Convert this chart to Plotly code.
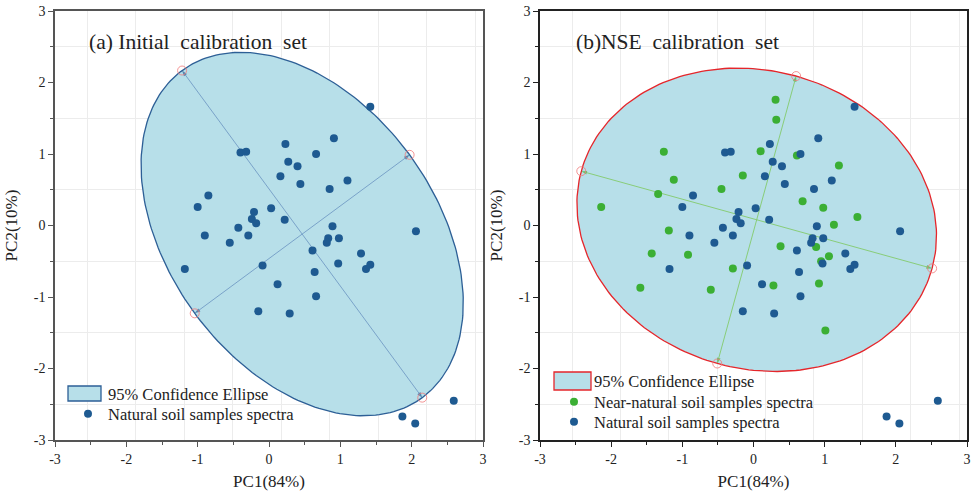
import numpy as np
import plotly.graph_objects as go

# ---------------- data ----------------
natural_pc1 = [1.42, 0.91, 0.23, -0.40, -0.32, 0.66, 0.27, 0.40, 0.16, 0.44, 1.10, 0.85,
               -0.85, -1.00, 0.03, -0.21, -0.24, -0.18, 0.22, 2.06, 0.89, 0.83, 0.81, 0.98,
               -0.43, -0.90, -0.29, -0.55, 0.61, 1.29, 0.97, 1.42, 1.36, -1.18, -0.09, 0.64,
               0.12, 0.66, -0.15, 0.29, 2.59, 1.87, 2.05]
natural_pc2 = [1.66, 1.22, 1.14, 1.02, 1.03, 1.00, 0.89, 0.83, 0.69, 0.58, 0.63, 0.51,
               0.42, 0.26, 0.24, 0.19, 0.09, 0.03, 0.08, -0.08, -0.01, -0.18, -0.24, -0.18,
               -0.03, -0.14, -0.14, -0.24, -0.35, -0.39, -0.53, -0.55, -0.61, -0.61, -0.56, -0.65,
               -0.82, -0.99, -1.20, -1.23, -2.45, -2.67, -2.77]
near_pc1 = [0.31, 0.32, -1.26, 0.10, 0.61, 1.20, -1.12, -0.15, -0.45, -1.34, -2.14, 0.69,
            0.98, 1.46, 1.13, -1.19, 0.38, 0.88, -1.43, -0.92, 1.06, 0.95, -0.29, -1.59,
            -0.60, 0.28, 0.92, 1.01]
near_pc2 = [1.76, 1.48, 1.03, 1.04, 0.98, 0.84, 0.64, 0.70, 0.51, 0.44, 0.26, 0.34,
            0.25, 0.12, 0.01, -0.07, -0.29, -0.30, -0.39, -0.41, -0.43, -0.50, -0.60, -0.87,
            -0.90, -0.84, -0.81, -1.47]

# 95% confidence ellipses: center, semi-axes (major, minor), rotation of major axis (deg)
ell_a_center = [0.465, -0.12]
ell_a_axes = [2.84, 1.87]
ell_a_angle = -53.65
ell_b_center = [0.045, 0.08]
ell_b_axes = [2.557, 2.085]
ell_b_angle = -15.42

tick_vals = [-3, -2, -1, 0, 1, 2, 3]
tick_text = ["-3", "-2", "-1", "0", "1", "2", "3"]

# ---------------- style ----------------
FONT = "Liberation Serif"
BLUE = "#1E5A91"
GREEN = "#3BAF34"
FILL = "#B7DFE9"
W, H = 971, 497
XDOM_L = [55 / W, 483 / W]
XDOM_R = [540 / W, 967 / W]
YDOM = [57 / H, 486 / H]


def ellipse_pts(c, ax, ang, n=240):
    t = np.linspace(0, 2 * np.pi, n)
    th = np.radians(ang)
    x = c[0] + ax[0] * np.cos(t) * np.cos(th) - ax[1] * np.sin(t) * np.sin(th)
    y = c[1] + ax[0] * np.cos(t) * np.sin(th) + ax[1] * np.sin(t) * np.cos(th)
    return x, y


def axis_ends(c, ax, ang):
    th = np.radians(ang)
    u = np.array([np.cos(th), np.sin(th)])
    v = np.array([-np.sin(th), np.cos(th)])
    c = np.array(c)
    return [c + ax[0] * u, c - ax[0] * u, c + ax[1] * v, c - ax[1] * v]


fig = go.Figure()

# empty traces to create grid-only base subplots
fig.add_trace(go.Scatter(x=[], y=[], xaxis="x", yaxis="y", showlegend=False, hoverinfo="skip"))
fig.add_trace(go.Scatter(x=[], y=[], xaxis="x3", yaxis="y3", showlegend=False, hoverinfo="skip"))


def add_panel(xa, ya, c, ax, ang, line_col, axis_col, head_col, legend_name):
    ex, ey = ellipse_pts(c, ax, ang)
    fig.add_trace(go.Scatter(x=ex, y=ey, mode="lines", fill="toself", fillcolor=FILL,
                             line=dict(color=line_col, width=1.3), name="95% Confidence Ellipse",
                             xaxis=xa, yaxis=ya, showlegend=False, hoverinfo="skip"))
    ends = axis_ends(c, ax, ang)
    for e in ends:
        fig.add_trace(go.Scatter(x=[c[0], e[0]], y=[c[1], e[1]], mode="lines+markers",
                                 line=dict(color=axis_col, width=0.8),
                                 marker=dict(symbol="arrow", angleref="previous", size=[0, 6],
                                             color=head_col, line=dict(width=0)),
                                 xaxis=xa, yaxis=ya, showlegend=False, hoverinfo="skip"))
    fig.add_trace(go.Scatter(x=[e[0] for e in ends], y=[e[1] for e in ends], mode="markers",
                             marker=dict(symbol="circle-open", size=9, color="#F07878",
                                         line=dict(width=0.8)),
                             xaxis=xa, yaxis=ya, showlegend=False, hoverinfo="skip"))
    # legend entry for the ellipse (key box drawn as a layout shape)
    fig.add_trace(go.Scatter(x=[None], y=[None], mode="lines", line=dict(width=0, color=FILL),
                             name="95% Confidence Ellipse", xaxis=xa, yaxis=ya,
                             legend=legend_name, hoverinfo="skip"))


add_panel("x2", "y2", ell_a_center, ell_a_axes, ell_a_angle, "#2D5F96", "#6A93C0", "#2D5F96", "legend")
fig.add_trace(go.Scatter(x=natural_pc1, y=natural_pc2, mode="markers",
                         marker=dict(color=BLUE, size=8), name="Natural soil samples spectra",
                         xaxis="x2", yaxis="y2", legend="legend3"))

add_panel("x4", "y4", ell_b_center, ell_b_axes, ell_b_angle, "#E5262B", "#7CC85C", "#4FB83A", "legend2")
fig.add_trace(go.Scatter(x=near_pc1, y=near_pc2, mode="markers",
                         marker=dict(color=GREEN, size=8), name="Near-natural soil samples spectra",
                         xaxis="x4", yaxis="y4", legend="legend4"))
fig.add_trace(go.Scatter(x=natural_pc1, y=natural_pc2, mode="markers",
                         marker=dict(color=BLUE, size=8), name="Natural soil samples spectra",
                         xaxis="x4", yaxis="y4", legend="legend5"))

grid_common = dict(range=[-3, 3], showgrid=True, gridcolor="#ECECEC", gridwidth=1,
                   showticklabels=False, ticks="", zeroline=False, showline=False,
                   fixedrange=True, automargin=False)
gx = dict(grid_common, tick0=-2.55, dtick=0.68)
gy = dict(grid_common, tick0=-2.5, dtick=1)


def data_axis(title, linecol, dom, overlay, anchor, is_y=False):
    d = dict(range=[-3, 3], domain=dom, overlaying=overlay, anchor=anchor, automargin=False,
             tickmode="array", tickvals=tick_vals, ticktext=tick_text,
             ticks="outside", ticklen=5, tickwidth=1, tickcolor=linecol,
             minor=dict(ticks="outside", ticklen=3, tick0=-3, dtick=0.5, tickcolor=linecol),
             showgrid=False, zeroline=False, showline=True, mirror=True,
             linecolor=linecol, linewidth=1.5,
             tickfont=dict(family=FONT, size=14, color="#222"),
             title=dict(text=title, font=dict(family=FONT, size=17, color="#222"),
                        standoff=10 if not is_y else 12))
    return d


def one_legend(x_px, y_px):
    return dict(x=x_px / W, y=1 - y_px / H, xanchor="left", yanchor="middle",
                bgcolor="rgba(0,0,0,0)", borderwidth=0, tracegroupgap=0,
                font=dict(family=FONT, size=16.5, color="#222"))


def key_box(x0, x1, y0, y1, col):
    return dict(type="rect", xref="paper", yref="paper", x0=x0 / W, x1=x1 / W,
                y0=1 - y1 / H, y1=1 - y0 / H, fillcolor=FILL,
                line=dict(color=col, width=1.3), layer="above")


fig.update_layout(
    width=W, height=H,
    margin=dict(l=0, r=0, t=0, b=0, autoexpand=False),
    paper_bgcolor="white", plot_bgcolor="white",
    xaxis=dict(gx, domain=XDOM_L, anchor="y"),
    yaxis=dict(gy, domain=YDOM, anchor="x"),
    xaxis3=dict(gx, domain=XDOM_R, anchor="y3"),
    yaxis3=dict(gy, domain=YDOM, anchor="x3"),
    xaxis2=data_axis("PC1(84%)", "#555", XDOM_L, "x", "y2"),
    yaxis2=data_axis("PC2(10%)", "#555", YDOM, "y", "x2", True),
    xaxis4=data_axis("PC1(84%)", "#222", XDOM_R, "x3", "y4"),
    yaxis4=data_axis("PC2(10%)", "#222", YDOM, "y3", "x4", True),
    legend=one_legend(68, 394),
    legend3=one_legend(68, 414),
    legend2=one_legend(554, 381),
    legend4=one_legend(554, 402),
    legend5=one_legend(554, 422),
    shapes=[key_box(68, 101, 386, 401, "#2D5F96"),
            key_box(554, 591, 372, 390, "#E5262B")],
    annotations=[
        dict(text="(a) Initial\u00a0\u00a0calibration\u00a0\u00a0set", x=87 / W, y=1 - 42 / H,
             xref="paper", yref="paper", xanchor="left", yanchor="middle", showarrow=False,
             font=dict(family=FONT, size=21.5, color="#222")),
        dict(text="(b)NSE\u00a0\u00a0calibration\u00a0\u00a0set", x=574 / W, y=1 - 42 / H,
             xref="paper", yref="paper", xanchor="left", yanchor="middle", showarrow=False,
             font=dict(family=FONT, size=21.5, color="#222")),
    ],
    showlegend=True,
)

fig.write_html("out.html")
